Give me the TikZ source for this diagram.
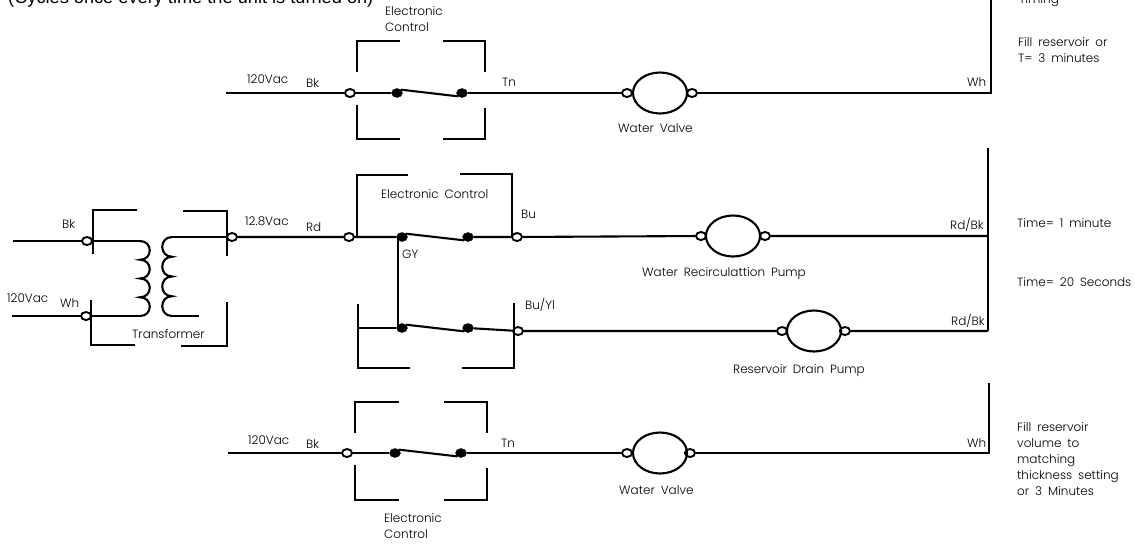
\documentclass[tikz,border=0pt]{standalone}
\usepackage{fontspec}
\setmainfont{Poppins}[UprightFont=* Light, WordSpace=1.8]
\newfontfamily\arialfont{Liberation Sans}
\usetikzlibrary{shapes.geometric}
\tikzset{
    wire/.style = {line width = 2.1pt},
    thinwire/.style = {line width = 1.2pt},
    lbl/.style = {anchor = base west, inner sep = 0pt, font = \fontsize{12}{16}\selectfont},
    note/.style = {anchor = north west, inner sep = 0pt, align = left, font = \fontsize{12}{16}\selectfont},
    ring/.style = {draw, ellipse, fill = white, line width = 1.9pt, inner sep = 0pt, minimum width = 10pt, minimum height = 8pt},
    contact/.style = {draw, ellipse, fill = black, inner sep = 0pt, minimum width = 11pt, minimum height = 9pt},
    load/.style = {draw, ellipse, line width = 2.1pt, inner sep = 0pt, minimum width = 54pt, minimum height = 41pt}
}
\begin{document}
\begin{tikzpicture}[x = 1pt, y = -1pt]
    \clip (0,0) rectangle (1135,544);
    \fill[white] (0,0) rectangle (1135,544);

    %free ends of the wires
    \coordinate (topin) at (226,93);
    \coordinate (botin) at (228,453);
    \coordinate (bkin) at (13,241);
    \coordinate (whin) at (12,316);
    \coordinate (priT) at (140,241);
    \coordinate (priB) at (140,316);
    \coordinate (secT) at (172,237);
    \coordinate (secB) at (172,316);
    \coordinate (secE) at (199,316);
    \coordinate (gyT) at (398,237);
    \coordinate (gyB) at (398,328);
    \coordinate (lowL) at (358,328);

    %right hand rails, each wire ends on a corner
    \coordinate (railA) at (991,93);
    \coordinate (railAt) at (991,-2);
    \coordinate (railB) at (988,236);
    \coordinate (railBt) at (988,148);
    \coordinate (railC) at (988,331);
    \coordinate (railD) at (989,453);
    \coordinate (railDt) at (989,383);

    %rings
    \foreach \nm/\x/\y in {topR/350/93, topV/627/93, topW/692/93, bkR/87/241, whR/86/316, trR/232/237,
        midL/349/237, midR/517/237, recA/701/236, recB/765/236, lowR/518/331, drnA/782/331, drnB/845/331,
        botR/347/453, botV/627/453, botW/690/453}{
        \node[ring] (\nm) at (\x,\y) {};
    }
    %contacts
    \foreach \nm/\x/\y in {topC/397/93, topD/462/93, midC/402/237, midD/468/237, lowC/402/328, lowD/468/328,
        botC/395/453, botD/461/453}{
        \node[contact] (\nm) at (\x,\y) {};
    }
    %loads
    \node[load] (valveA) at (660,93) {};
    \node[load] (recirc) at (733,236) {};
    \node[load] (drain) at (814,331) {};
    \node[load] (valveB) at (660,453) {};

    %wires
    \draw[wire] (topin) -- (topR) -- (topC) (topD) -- (topV) -- (valveA) -- (topW) -- (railA) -- (railAt);
    \draw[wire] (botin) -- (botR) -- (botC) (botD) -- (botV) -- (valveB) -- (botW) -- (railD) -- (railDt);
    \draw[wire] (bkin) -- (bkR) -- (priT);
    \draw[wire] (whin) -- (whR) -- (priB);
    \draw[wire] (trR) -- (secT);
    \draw[wire] (secB) -- (secE);
    \draw[wire] (trR) -- (midL) -- (midC) (midD) -- (midR) -- (recA) -- (recirc) -- (recB) -- (railB);
    \draw[wire] (railBt) -- (railB) -- (railC);
    \draw[wire] (lowD) -- (lowR) -- (drnA) -- (drain) -- (drnB) -- (railC);
    \draw[wire] (gyT) -- (gyB);
    \draw[thinwire] (lowL) -- (lowC);

    %switch blades
    \draw[wire] (topC.north east) -- (topD.south west);
    \draw[wire] (botC.north east) -- (botD.south west);
    \draw[wire] (midC.north east) -- (midD.south west);
    \draw[wire] (lowC.north east) -- (lowD.south west);

    %coils
    \draw[wire] (priT) \foreach \k in {0, ..., 3}{
        .. controls (153,{241+\k*18.75}) and (153,{259.75+\k*18.75}) .. (140,{259.75+\k*18.75}) };
    \draw[wire] (secT) \foreach \k in {0, ..., 3}{
        .. controls (159,{237+\k*19.75}) and (159,{256.75+\k*19.75}) .. (172,{256.75+\k*19.75}) };

    %brackets
    \foreach \xa/\xb/\ya/\yb/\gl/\gr/\st/\sb in {357/485/41/139/400/443/72/105, 355/487/402/500/399/444/433/465}{
        \draw[wire] (\xa,\st) -- (\xa,\ya) -- (\gl,\ya);
        \draw[wire] (\gr,\ya) -- (\xb,\ya) -- (\xb,\st);
        \draw[wire] (\xa,\sb) -- (\xa,\yb) -- (\gl,\yb);
        \draw[wire] (\gr,\yb) -- (\xb,\yb) -- (\xb,\sb+3);
    }
    \draw[wire] (93,254) -- (93,210) -- (137,210);
    \draw[wire] (183,211) -- (227,211) -- (227,256);
    \draw[wire] (91,300) -- (91,345) -- (135,345);
    \draw[wire] (181,346) -- (227,346) -- (227,302);
    \draw[wire] (357,237) -- (357,175) -- (408,175);
    \draw[wire] (460,174) -- (512,174) -- (512,237);
    \draw[wire] (358,304) -- (358,368) -- (410,368);
    \draw[wire] (462,368) -- (514,368) -- (514,303);

    %texts
    \node[anchor = base west, inner sep = 0pt, font = \arialfont\fontsize{18.2}{18}\selectfont] (cycles) at (8,3) {(Cycles once every time the unit is turned on)};
    \node[lbl] (volA) at (247,83) {120Vac};
    \node[lbl] (bkA) at (306,87) {Bk};
    \node[lbl] (tnA) at (502,86) {Tn};
    \node[lbl] (whA) at (967,86) {Wh};
    \node[lbl] (bkB) at (62,228) {Bk};
    \node[lbl] (volB) at (7,302) {120Vac};
    \node[lbl] (whB) at (60,307) {Wh};
    \node[lbl] (xfmr) at (132,338) {Transformer};
    \node[lbl] (volC) at (245,225) {12.8Vac};
    \node[lbl] (rdA) at (306,231) {Rd};
    \node[lbl] (ctlB) at (381,198) {Electronic Control};
    \node[lbl] (buA) at (521,218) {Bu};
    \node[lbl] (gyA) at (402,258) {GY};
    \node[lbl] (buB) at (525,309) {Bu/Yl};
    \node[lbl] (rdB) at (950,229) {Rd/Bk};
    \node[lbl] (rdC) at (951,325) {Rd/Bk};
    \node[lbl] (volD) at (248,444) {120Vac};
    \node[lbl] (bkD) at (306,448) {Bk};
    \node[lbl] (tnD) at (501,447) {Tn};
    \node[lbl] (whD) at (967,447) {Wh};
    \node[lbl] (capA) at (618,132) {Water Valve};
    \node[lbl] (capB) at (642,276) {Water Recirculattion Pump};
    \node[lbl] (capC) at (733,373) {Reservoir Drain Pump};
    \node[lbl] (capD) at (619,494) {Water Valve};
    \node[lbl] (timeA) at (1017,227) {Time= 1 minute};
    \node[lbl] (timeB) at (1017,286) {Time= 20 Seconds};
    \node[lbl] (timing) at (1019,3) {Timing};
    \node[note] (ctlA) at (385,6) {Electronic\\Control};
    \node[note] (ctlD) at (384,513) {Electronic\\Control};
    \node[note] (fillA) at (1018,37) {Fill reservoir or\\T= 3 minutes};
    \node[note] (fillB) at (1017,422) {Fill reservoir\\volume to\\matching\\thickness setting\\or 3 Minutes};
\end{tikzpicture}
\end{document}
